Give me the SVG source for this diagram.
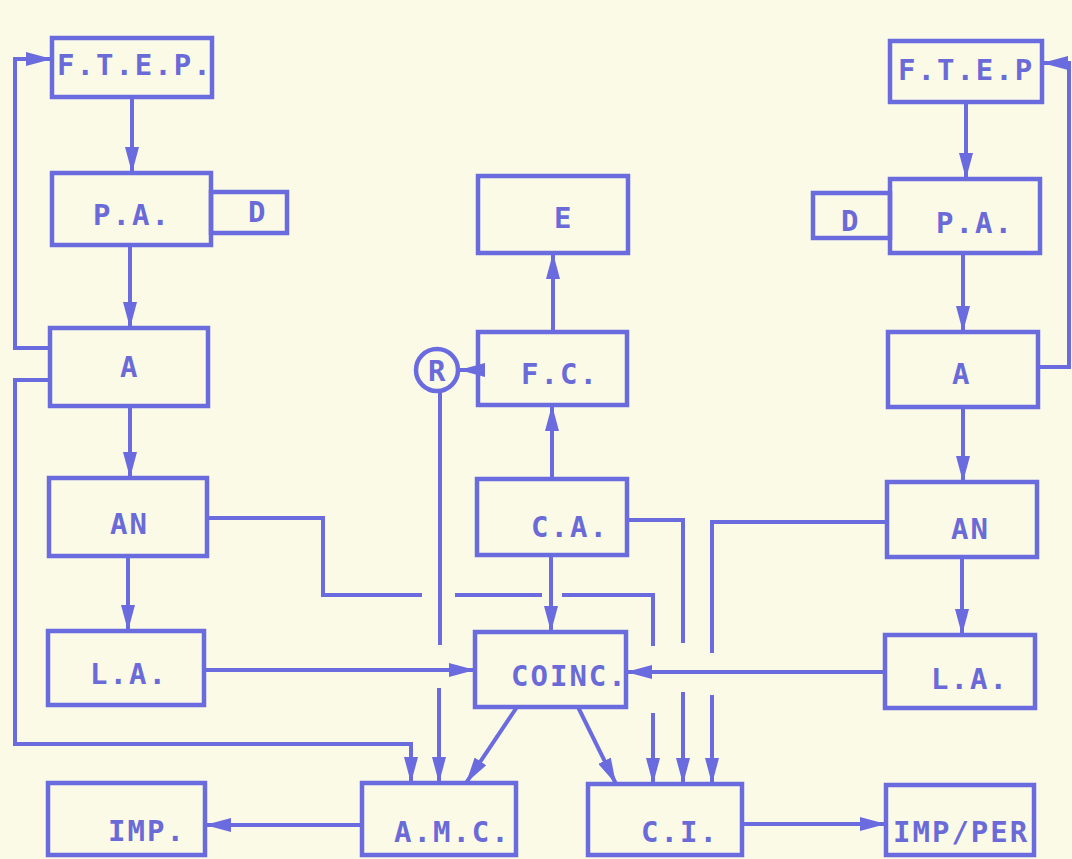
<svg xmlns="http://www.w3.org/2000/svg" width="1072" height="859" viewBox="0 0 1072 859">
<style>
.bg{fill:#fbfae6}
.box{fill:none;stroke:#6b6be0;stroke-width:4.5}
.ln{fill:none;stroke:#6b6be0;stroke-width:4}
.t{font-family:"DejaVu Sans Mono","Liberation Mono",monospace;font-weight:bold;font-size:29px;letter-spacing:2px;fill:#6a6ad8}
</style>
<defs>
<marker id="ah" markerUnits="userSpaceOnUse" markerWidth="26" markerHeight="14" refX="26" refY="7" orient="auto">
<path d="M0,0 L26,7 L0,14 Z" fill="#6b6be0"/>
</marker>
</defs>
<rect class="bg" x="0" y="0" width="1072" height="859"/>
<g id="connectors">
<path class="ln" d="M132,97 V173" marker-end="url(#ah)"/>
<path class="ln" d="M130,245 V328" marker-end="url(#ah)"/>
<path class="ln" d="M130,406 V478" marker-end="url(#ah)"/>
<path class="ln" d="M128,556 V631" marker-end="url(#ah)"/>
<path class="ln" d="M50,348 H15 V59 H52" marker-end="url(#ah)"/>
<path class="ln" d="M50,380 H15 V744 H411 V783" marker-end="url(#ah)"/>
<path class="ln" d="M207,518 H323 V595 H422 M455,595 H542 M562,595 H653 V646"/>
<path class="ln" d="M653,713 V784" marker-end="url(#ah)"/>
<path class="ln" d="M440,393 V645"/>
<path class="ln" d="M439,688 V783" marker-end="url(#ah)"/>
<path class="ln" d="M627,520 H683 V643"/>
<path class="ln" d="M683,692 V784" marker-end="url(#ah)"/>
<path class="ln" d="M887,522 H712 V653"/>
<path class="ln" d="M712,695 V784" marker-end="url(#ah)"/>
<path class="ln" d="M204,670 H475" marker-end="url(#ah)"/>
<path class="ln" d="M885,672 H626" marker-end="url(#ah)"/>
<path class="ln" d="M551,555 V632" marker-end="url(#ah)"/>
<path class="ln" d="M552,479 V405" marker-end="url(#ah)"/>
<path class="ln" d="M553,332 V253" marker-end="url(#ah)"/>
<path class="ln" d="M478,370 H459" marker-end="url(#ah)"/>
<path class="ln" d="M517,707 L466,783" marker-end="url(#ah)"/>
<path class="ln" d="M578,707 L616,784" marker-end="url(#ah)"/>
<path class="ln" d="M362,825 H205" marker-end="url(#ah)"/>
<path class="ln" d="M742,824 H886" marker-end="url(#ah)"/>
<path class="ln" d="M966,102 V179" marker-end="url(#ah)"/>
<path class="ln" d="M963,253 V332" marker-end="url(#ah)"/>
<path class="ln" d="M963,407 V482" marker-end="url(#ah)"/>
<path class="ln" d="M962,557 V635" marker-end="url(#ah)"/>
<path class="ln" d="M1038,367 H1069 V63 H1042" marker-end="url(#ah)"/>
</g>
<g id="ftep-left"><rect class="box" x="52" y="38" width="160" height="59"/><text class="t" x="57" y="75">F.T.E.P.</text></g>
<g id="pa-left"><rect class="box" x="52" y="173" width="159" height="72"/><text class="t" x="93" y="225">P.A.</text></g>
<g id="d-left"><rect class="box" x="211" y="192" width="76" height="41"/><text class="t" x="248" y="222">D</text></g>
<g id="a-left"><rect class="box" x="50" y="328" width="158" height="78"/><text class="t" x="120" y="377">A</text></g>
<g id="an-left"><rect class="box" x="49" y="478" width="158" height="78"/><text class="t" x="110" y="534">AN</text></g>
<g id="la-left"><rect class="box" x="48" y="631" width="156" height="74"/><text class="t" x="90" y="684">L.A.</text></g>
<g id="imp"><rect class="box" x="48" y="783" width="157" height="72"/><text class="t" x="108" y="841">IMP.</text></g>
<g id="e"><rect class="box" x="478" y="176" width="150" height="77"/><text class="t" x="554" y="228">E</text></g>
<g id="fc"><rect class="box" x="478" y="332" width="149" height="73"/><text class="t" x="521" y="384">F.C.</text></g>
<g id="r"><circle class="box" cx="437" cy="370" r="21"/><text class="t" x="428" y="381">R</text></g>
<g id="ca"><rect class="box" x="477" y="479" width="150" height="76"/><text class="t" x="531" y="537">C.A.</text></g>
<g id="coinc"><rect class="box" x="475" y="632" width="151" height="75"/><text class="t" x="511" y="686">COINC.</text></g>
<g id="amc"><rect class="box" x="362" y="783" width="154" height="72"/><text class="t" x="394" y="842">A.M.C.</text></g>
<g id="ci"><rect class="box" x="588" y="784" width="154" height="71"/><text class="t" x="641" y="842">C.I.</text></g>
<g id="ftep-right"><rect class="box" x="890" y="41" width="152" height="61"/><text class="t" x="898" y="80">F.T.E.P</text></g>
<g id="pa-right"><rect class="box" x="890" y="179" width="150" height="74"/><text class="t" x="936" y="233">P.A.</text></g>
<g id="d-right"><rect class="box" x="813" y="193" width="77" height="45"/><text class="t" x="841" y="231">D</text></g>
<g id="a-right"><rect class="box" x="888" y="332" width="150" height="75"/><text class="t" x="952" y="384">A</text></g>
<g id="an-right"><rect class="box" x="887" y="482" width="150" height="75"/><text class="t" x="951" y="539">AN</text></g>
<g id="la-right"><rect class="box" x="885" y="635" width="150" height="73"/><text class="t" x="931" y="689">L.A.</text></g>
<g id="imp-per"><rect class="box" x="886" y="785" width="148" height="70"/><text class="t" x="893" y="842">IMP/PER</text></g>
</svg>
